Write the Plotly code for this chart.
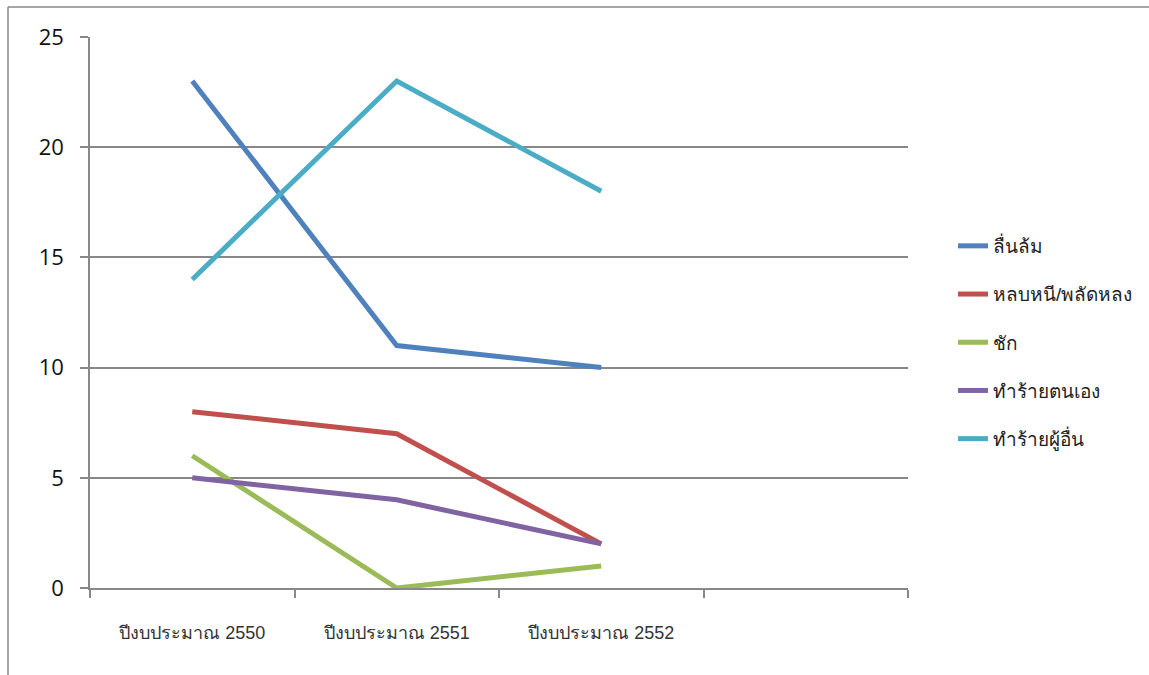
import plotly.graph_objects as go

categories = ["ปีงบประมาณ 2550", "ปีงบประมาณ 2551", "ปีงบประมาณ 2552", " "]
series_names = ["ลื่นล้ม", "หลบหนี/พลัดหลง", "ชัก", "ทำร้ายตนเอง", "ทำร้ายผู้อื่น"]
slip_fall = [23, 11, 10]
escape_lost = [8, 7, 2]
seizure = [6, 0, 1]
self_harm = [5, 4, 2]
harm_others = [14, 23, 18]
colors = ["#4F81BD", "#C0504D", "#9BBB59", "#8064A2", "#4BACC6"]
y_ticks = [0, 5, 10, 15, 20, 25]

W, H = 1149, 675
L, R, T, B = 90, 908, 37, 588

fig = go.Figure()
for i, (name, vals) in enumerate(zip(series_names, [slip_fall, escape_lost, seizure, self_harm, harm_others])):
    fig.add_trace(go.Scatter(
        x=categories[:3], y=vals, name=name, mode="lines",
        line=dict(color=colors[i], width=5),
        legendgroup=str(i),
    ))

def px_x(p):
    return (p - L) / (R - L)

def px_y(p):
    return (B - p) / (B - T)

fig.update_layout(
    width=W, height=H,
    margin=dict(l=L, r=W - R, t=T, b=H - B, autoexpand=False),
    paper_bgcolor="white", plot_bgcolor="white",
    showlegend=True,
    legend=dict(
        x=px_x(953), y=px_y(227), xanchor="left", yanchor="top",
        font=dict(family="Liberation Sans, Noto Sans, sans-serif", size=19, color="#222"),
        tracegroupgap=20.5, traceorder="grouped", itemwidth=30,
        bgcolor="rgba(0,0,0,0)",
    ),
    xaxis=dict(
        type="category", categoryorder="array", categoryarray=categories,
        range=[-0.5, 3.5], tickson="boundaries", ticks="outside", ticklen=8,
        tickcolor="#888", tickwidth=1.5,
        showline=True, linecolor="#888", linewidth=1.5, showgrid=False,
        tickfont=dict(family="Liberation Sans Narrow, Liberation Sans, sans-serif", size=18, color="#333"),
        ticklabelstandoff=28, zeroline=False,
    ),
    yaxis=dict(
        range=[0, 25], tickvals=y_ticks, ticks="outside", ticklen=8,
        tickcolor="#888", tickwidth=1.5,
        showline=True, linecolor="#888", linewidth=1.5,
        showgrid=True, gridcolor="#888", gridwidth=1.5, zeroline=False,
        tickfont=dict(family="Open Sans, sans-serif", size=22, color="#111"),
        ticklabelstandoff=12,
    ),
    shapes=[
        dict(type="line", xref="paper", yref="paper", x0=px_x(8), x1=px_x(W + 5), y0=px_y(7), y1=px_y(7),
             line=dict(color="#888", width=1.5)),
        dict(type="line", xref="paper", yref="paper", x0=px_x(8), x1=px_x(8), y0=px_y(7), y1=px_y(H + 5),
             line=dict(color="#888", width=1.5)),
    ],
)

fig.write_html("out.html")
